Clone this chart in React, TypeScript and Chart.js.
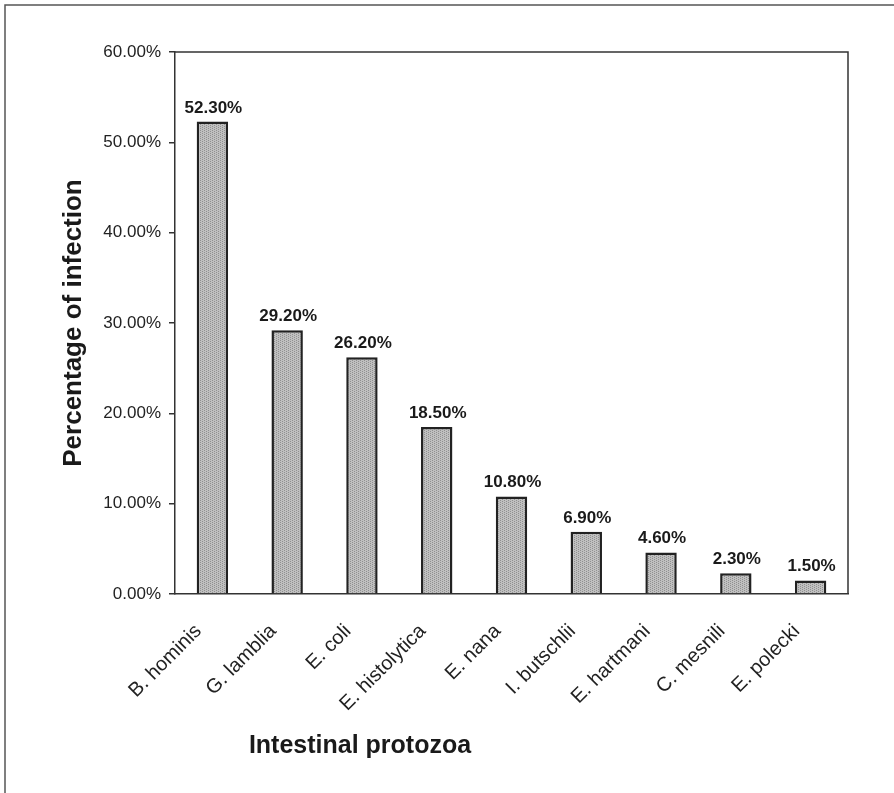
import React, { useEffect, useRef } from "react";
import { Chart, registerables } from "chart.js";

Chart.register(...registerables);

const categories = [
  "B. hominis",
  "G. lamblia",
  "E. coli",
  "E. histolytica",
  "E. nana",
  "I. butschlii",
  "E. hartmani",
  "C. mesnili",
  "E. polecki",
];
const percentages = [52.3, 29.2, 26.2, 18.5, 10.8, 6.9, 4.6, 2.3, 1.5];
const yTicks = [0, 10, 20, 30, 40, 50, 60];
const xTitle = "Intestinal protozoa";
const yTitle = "Percentage of infection";

const FONT = '"Liberation Sans", Arial, sans-serif';
const W = 894;
const H = 793;

function makePattern(): CanvasPattern | string {
  const c = document.createElement("canvas");
  c.width = 4;
  c.height = 2;
  const g = c.getContext("2d");
  if (!g) return "#b0b0b0";
  g.fillStyle = "#c0c0c0";
  g.fillRect(0, 0, 4, 2);
  g.fillStyle = "#909090";
  g.fillRect(0, 0, 1, 1);
  g.fillRect(2, 1, 1, 1);
  const p = g.createPattern(c, "repeat");
  return p || "#b0b0b0";
}

const decorPlugin = {
  id: "decor",
  beforeDraw(chart: any) {
    const ctx = chart.ctx;
    ctx.save();
    ctx.fillStyle = "#ffffff";
    ctx.fillRect(0, 0, chart.width, chart.height);
    ctx.strokeStyle = "#555555";
    ctx.lineWidth = 1.5;
    ctx.beginPath();
    ctx.moveTo(5, chart.height);
    ctx.lineTo(5, 5);
    ctx.lineTo(chart.width, 5);
    ctx.stroke();
    ctx.restore();
  },
  afterDraw(chart: any) {
    const ctx = chart.ctx;
    const a = chart.chartArea;
    ctx.save();
    ctx.strokeStyle = "#333333";
    ctx.lineWidth = 1.5;
    ctx.beginPath();
    ctx.moveTo(a.left, a.top);
    ctx.lineTo(a.right, a.top);
    ctx.lineTo(a.right, a.bottom);
    ctx.stroke();

    // category labels, rotated
    const xs = chart.scales.x;
    ctx.fillStyle = "#222222";
    ctx.font = `20px ${FONT}`;
    ctx.textAlign = "right";
    ctx.textBaseline = "alphabetic";
    categories.forEach((lab, i) => {
      const px = xs.getPixelForTick(i);
      ctx.save();
      ctx.translate(px - 10, a.bottom + 38);
      ctx.rotate(-Math.PI / 4);
      ctx.fillText(lab, 0, 0);
      ctx.restore();
    });

    // axis titles
    ctx.fillStyle = "#1a1a1a";
    ctx.font = `bold 25px ${FONT}`;
    ctx.textAlign = "center";
    ctx.textBaseline = "alphabetic";
    ctx.fillText(xTitle, 360, a.bottom + 159);
    ctx.font = `bold 26px ${FONT}`;
    ctx.translate(81, (a.top + a.bottom) / 2);
    ctx.rotate(-Math.PI / 2);
    ctx.fillText(yTitle, 0, 0);
    ctx.restore();
  },
  afterDatasetsDraw(chart: any) {
    const ctx = chart.ctx;
    const meta = chart.getDatasetMeta(0);
    ctx.save();
    ctx.fillStyle = "#1a1a1a";
    ctx.font = `bold 17px ${FONT}`;
    ctx.textAlign = "center";
    ctx.textBaseline = "alphabetic";
    meta.data.forEach((bar: any, i: number) => {
      ctx.fillText(percentages[i].toFixed(2) + "%", bar.x + 1, bar.y - 9);
    });
    ctx.restore();
  },
};

export default function App() {
  const ref = useRef<HTMLCanvasElement | null>(null);

  useEffect(() => {
    const canvas = ref.current;
    if (!canvas) return;
    const chart = new Chart(canvas, {
      type: "bar",
      data: {
        labels: categories,
        datasets: [
          {
            data: percentages,
            backgroundColor: makePattern() as any,
            borderColor: "#222222",
            borderWidth: 2.5,
            categoryPercentage: 1,
            barPercentage: 0.42,
          },
        ],
      },
      options: {
        responsive: false,
        animation: false,
        layout: { padding: { left: 0, top: 52, right: 46, bottom: 0 } },
        plugins: {
          legend: { display: false },
          tooltip: { enabled: false },
          title: { display: false },
        },
        scales: {
          x: {
            afterFit: (s: any) => {
              s.height = H - 594;
            },
            grid: { display: false, drawTicks: false },
            border: { display: true, color: "#333333", width: 1.5 },
            ticks: { display: false },
          },
          y: {
            min: 0,
            max: 60,
            afterFit: (s: any) => {
              s.width = 175;
            },
            afterBuildTicks: (s: any) => {
              s.ticks = yTicks.map((v) => ({ value: v }));
            },
            grid: {
              display: true,
              drawOnChartArea: false,
              drawTicks: true,
              tickLength: 6,
              color: "#333333",
              lineWidth: 1.5,
            },
            border: { display: true, color: "#333333", width: 1.5 },
            ticks: {
              padding: 8,
              color: "#222222",
              font: { family: FONT, size: 17 },
              callback: (v: any) => Number(v).toFixed(2) + "%",
            },
          },
        },
      },
      plugins: [decorPlugin],
    });
    return () => chart.destroy();
  }, []);

  return (
    <div style={{ position: "absolute", left: 0, top: 0, width: W, height: H }}>
      <canvas ref={ref} width={W} height={H} style={{ display: "block" }} />
    </div>
  );
}
